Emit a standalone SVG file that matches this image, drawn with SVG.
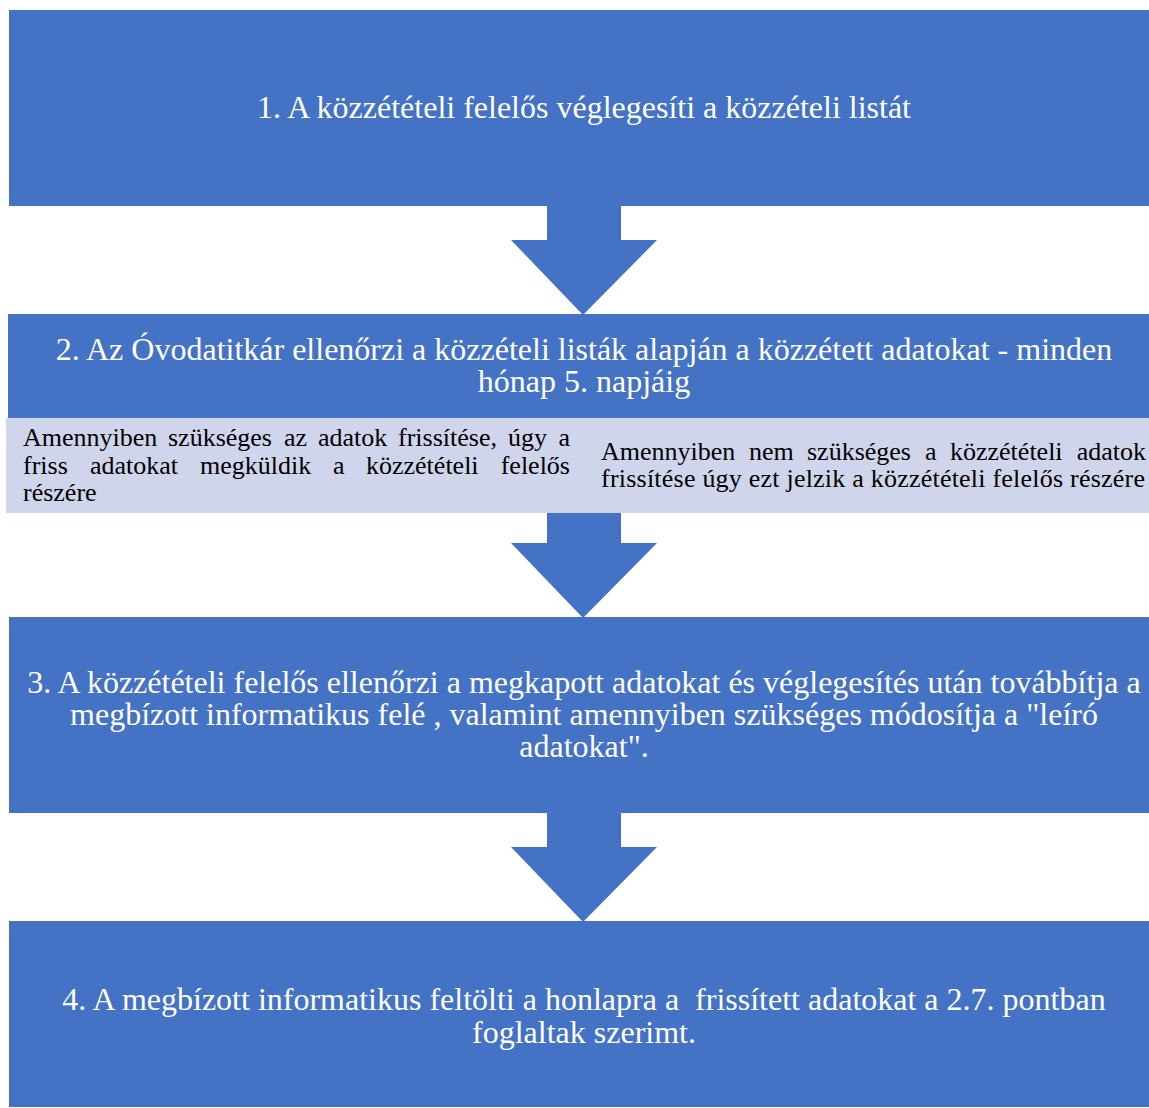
<svg xmlns="http://www.w3.org/2000/svg" width="1149" height="1108" viewBox="0 0 1149 1108">
<style>
.box{fill:#4472C4}
.strip{fill:#CFD5EA}
.arrow{fill:#4472C4}
.t{font-family:"Liberation Serif","Times New Roman",serif;font-size:32px;fill:#FFFFFF;text-anchor:middle}
.s{font-family:"Liberation Serif","Times New Roman",serif;font-size:26px;fill:#000000}
.e{text-anchor:end}
</style>
<rect width="1149" height="1108" fill="#FFFFFF"/>
<g id="connectors">
<polygon class="arrow" points="547,206 621,206 621,240 657,240 583,315 511,240 547,240"/>
<polygon class="arrow" points="547,513 621,513 621,543 657,543 583,618 511,543 547,543"/>
<polygon class="arrow" points="547,813 621,813 621,847 657,847 583,922 511,847 547,847"/>
</g>
<g id="node1">
<rect class="box" x="9" y="10" width="1140" height="196"/>
<text class="t" x="584" y="118">1. A közzétételi felelős véglegesíti a közzételi listát</text>
</g>
<g id="node2">
<rect class="box" x="8" y="314" width="1141" height="104"/>
<text class="t" x="584" y="360">2. Az Óvodatitkár ellenőrzi a közzételi listák alapján a közzétett adatokat - minden</text>
<text class="t" x="584" y="392">hónap 5. napjáig</text>
</g>
<g id="node2a">
<rect class="strip" x="6" y="418" width="1143" height="95"/>
<text class="s" y="446"><tspan x="23">Amennyiben</tspan><tspan x="168">szükséges</tspan><tspan x="284">az</tspan><tspan x="318">adatok</tspan><tspan x="398">frissítése,</tspan><tspan x="508">úgy</tspan></text>
<text class="s e" x="570" y="446">a</text>
<text class="s" y="474"><tspan x="23">friss</tspan><tspan x="90">adatokat</tspan><tspan x="200">megküldik</tspan><tspan x="333">a</tspan><tspan x="366">közzétételi</tspan></text>
<text class="s e" x="570" y="474">felelős</text>
<text class="s" x="23" y="501">részére</text>
<text class="s" y="460"><tspan x="601">Amennyiben</tspan><tspan x="749">nem</tspan><tspan x="807">szükséges</tspan><tspan x="925">a</tspan><tspan x="950">közzétételi</tspan></text>
<text class="s e" x="1146" y="460">adatok</text>
<text class="s" x="601" y="487" textLength="544" lengthAdjust="spacing">frissítése úgy ezt jelzik a közzétételi felelős részére</text>
</g>
<g id="node3">
<rect class="box" x="9" y="617" width="1140" height="196"/>
<text class="t" x="584" y="693">3. A közzétételi felelős ellenőrzi a megkapott adatokat és véglegesítés után továbbítja a</text>
<text class="t" x="584" y="725">megbízott informatikus felé , valamint amennyiben szükséges módosítja a "leíró</text>
<text class="t" x="584" y="757">adatokat".</text>
</g>
<g id="node4">
<rect class="box" x="9" y="921" width="1140" height="186"/>
<text class="t" x="584" y="1010" xml:space="preserve">4. A megbízott informatikus feltölti a honlapra a  frissített adatokat a 2.7. pontban</text>
<text class="t" x="584" y="1043">foglaltak szerimt.</text>
</g>
</svg>
